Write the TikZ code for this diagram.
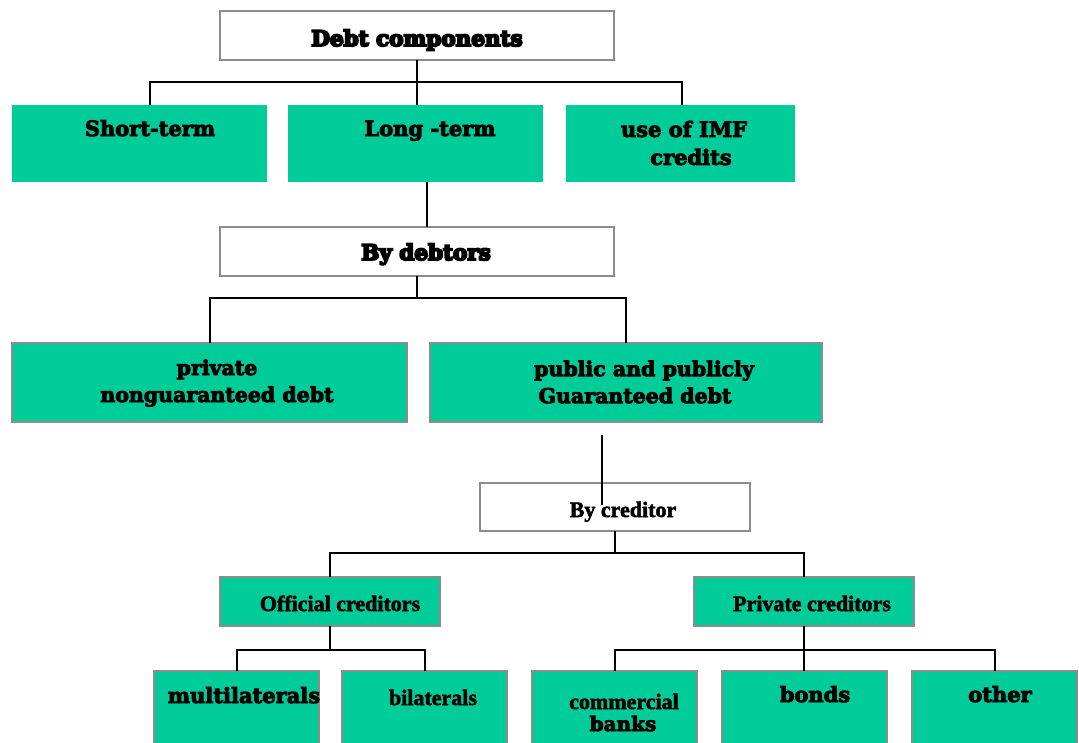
\documentclass[tikz,border=0pt]{standalone}
\usepackage{fontspec}
\newfontfamily\dvfont{DejaVu Serif}
\newfontfamily\tmfont{Liberation Serif}
\newcommand\inked[2]{\special{pdf:literal direct 2 Tr #1 w}#2\special{pdf:literal direct 0 Tr}}
\definecolor{debtgreen}{RGB}{0,204,153}
\definecolor{edgegray}{RGB}{140,140,140}
\begin{document}
\begin{tikzpicture}[x=1pt,y=-1pt,line width=2pt,
	wbox/.style={draw=edgegray,fill=white,inner sep=0pt,outer sep=0pt,anchor=north west},
	gbox/.style={fill=debtgreen,inner sep=0pt,outer sep=0pt,anchor=north west},
	gfbox/.style={gbox,draw=edgegray},
	hv/.style={font=\dvfont\bfseries\fontsize{21}{28}\selectfont,align=center,inner sep=0pt},
	blk/.style={font=\dvfont\bfseries\fontsize{21.5}{28}\selectfont,inner sep=0pt},
	tm/.style={font=\tmfont\bfseries\fontsize{22}{26}\selectfont,align=center,inner sep=0pt}]
	\clip (0,0) rectangle (1079,742);
	\node[wbox,minimum width=394pt,minimum height=49pt] (dc) at (220,11) {};
	\node[gbox,minimum width=255pt,minimum height=77pt] (st) at (12,105) {};
	\node[gbox,minimum width=255pt,minimum height=77pt] (lt) at (288,105) {};
	\node[gbox,minimum width=229pt,minimum height=77pt] (imf) at (566,105) {};
	\node[wbox,minimum width=394pt,minimum height=49pt] (bd) at (220,227) {};
	\node[gfbox,minimum width=395pt,minimum height=79pt] (pn) at (12,343) {};
	\node[gfbox,minimum width=392pt,minimum height=79pt] (pp) at (430,343) {};
	\node[wbox,minimum width=270pt,minimum height=48pt] (bc) at (480,483) {};
	\node[gfbox,minimum width=220pt,minimum height=49pt] (oc) at (220,577) {};
	\node[gfbox,minimum width=220pt,minimum height=49pt] (pc) at (694,577) {};
	\foreach \x/\n in {154/ml,342/bl,532/cb,722/bo,912/ot}
		\node[gfbox,minimum width=165pt,minimum height=90pt] (\n) at (\x,671) {};
	\node[blk,anchor=base] (tdc) at (417,46) {\inked{1.9}{Debt components}};
	\node[hv,anchor=base] (tst) at (150,136) {\inked{0.9}{Short-term}};
	\node[hv,anchor=base] (tlt) at (430,136) {\inked{0.9}{Long -term}};
	\node[hv] (timf) at (684,143) {\inked{0.9}{use of IMF}\\\hspace*{14pt}\inked{0.9}{credits}};
	\node[blk,anchor=base] (tbd) at (426,260) {\inked{1.9}{By debtors}};
	\node[hv,font=\dvfont\bfseries\fontsize{20.5}{27}\selectfont] (tpn) at (217,383) {\inked{0.9}{private}\\\inked{0.9}{nonguaranteed debt}};
	\node[hv,font=\dvfont\bfseries\fontsize{20.5}{27}\selectfont] (tpp) at (644,382) {\inked{0.9}{public and publicly}\\\inked{0.9}{Guaranteed debt}\hspace*{18pt}};
	\node[tm,anchor=base] (tbc) at (623,517) {\inked{0.5}{By creditor}};
	\node[tm,anchor=base] (toc) at (340,611) {\inked{0.5}{Official creditors}};
	\node[tm,anchor=base] (tpc) at (812,611) {\inked{0.5}{Private creditors}};
	\node[hv,anchor=base] (tml) at (244,703) {\inked{0.9}{multilaterals}};
	\node[tm,anchor=base] (tbl) at (433,705) {\inked{0.5}{bilaterals}};
	\node[tm,anchor=base] (tcb) at (624,709) {\inked{0.5}{commercial}};
	\node[hv,anchor=base,font=\dvfont\bfseries\fontsize{20}{24}\selectfont] (tbk) at (623,731) {\inked{0.9}{banks}};
	\node[hv,anchor=base] (tbo) at (815,702) {\inked{0.9}{bonds}};
	\node[hv,anchor=base] (tot) at (1000,702) {\inked{0.9}{other}};
	\coordinate (j1) at ([shift={(0,22)}]dc.south);
	\coordinate (j2) at ([shift={(0,22)}]bd.south);
	\coordinate (j3) at ([shift={(0,22)}]bc.south);
	\coordinate (j4) at ([shift={(0,24)}]oc.south);
	\coordinate (j5) at ([shift={(0,24)}]pc.south);
	\draw (dc.south) -- (dc.south |- lt.north);
	\draw ([xshift=10.5pt]st.north) |- (j1) -| ([xshift=1.5pt]imf.north);
	\draw ([xshift=11pt]lt.south) -- ([xshift=11pt]lt.south |- bd.north);
	\draw (bd.south) -- (j2);
	\draw (pn.north) |- (j2) -| (pp.north);
	\draw ([shift={(-24,13)}]pp.south) -- ([shift={(-13,22)}]bc.north);
	\draw (bc.south) -- (j3);
	\draw (oc.north) |- (j3) -| (pc.north);
	\draw (oc.south) -- (j4);
	\draw (ml.north) |- (j4) -| (bl.north);
	\draw (pc.south) -- (pc.south |- bo.north);
	\draw (cb.north) |- (j5) -| (ot.north);
\end{tikzpicture}
\end{document}
